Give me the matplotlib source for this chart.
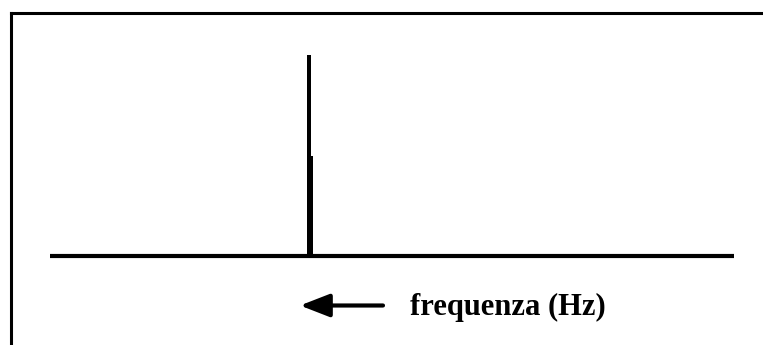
import matplotlib
matplotlib.use("Agg")
import matplotlib.pyplot as plt

# spettro: una sola riga, disegnata come due barre sovrapposte
freq_range = [0, 100]
line_freq = [37.6, 37.6]
line_amp = [1.0, 0.5]
line_width = [0.51, 0.88]
asse_label = "frequenza (Hz)"

W, H = 763, 345
fig = plt.figure(figsize=(W / 100, H / 100), dpi=100)

# cornice: solo bordo sinistro e superiore
frame = fig.add_axes([10.5 / W, 0, 1, (H - 12.5) / H])
frame.set_xticks([])
frame.set_yticks([])
for s in ["right", "bottom"]:
    frame.spines[s].set_visible(False)
for s in ["left", "top"]:
    frame.spines[s].set_linewidth(2.2)

ax = fig.add_axes([50 / W, (H - 256) / H, 684 / W, 201 / H])
ax.set_xlim(freq_range)
ax.set_ylim(0, 1)
ax.axis("off")
ax.axhline(0, color="k", lw=3.0, solid_capstyle="butt", clip_on=False)
ax.bar(line_freq, line_amp, width=line_width, align="edge", color="k",
       linewidth=0, clip_on=False)

# freccia e etichetta dell'asse
ax.annotate("", xy=(300, H - 305.5), xytext=(383, H - 305.5),
            xycoords="figure pixels", textcoords="figure pixels",
            arrowprops=dict(arrowstyle="-|>,head_length=0.9,head_width=0.35",
                            mutation_scale=20, lw=3, color="k",
                            shrinkA=0, shrinkB=0))
fig.text(410 / W, (H - 315) / H, asse_label, fontsize=22,
         family="Liberation Serif", weight="bold", va="baseline", ha="left")

fig.savefig("out.png", dpi=100)
